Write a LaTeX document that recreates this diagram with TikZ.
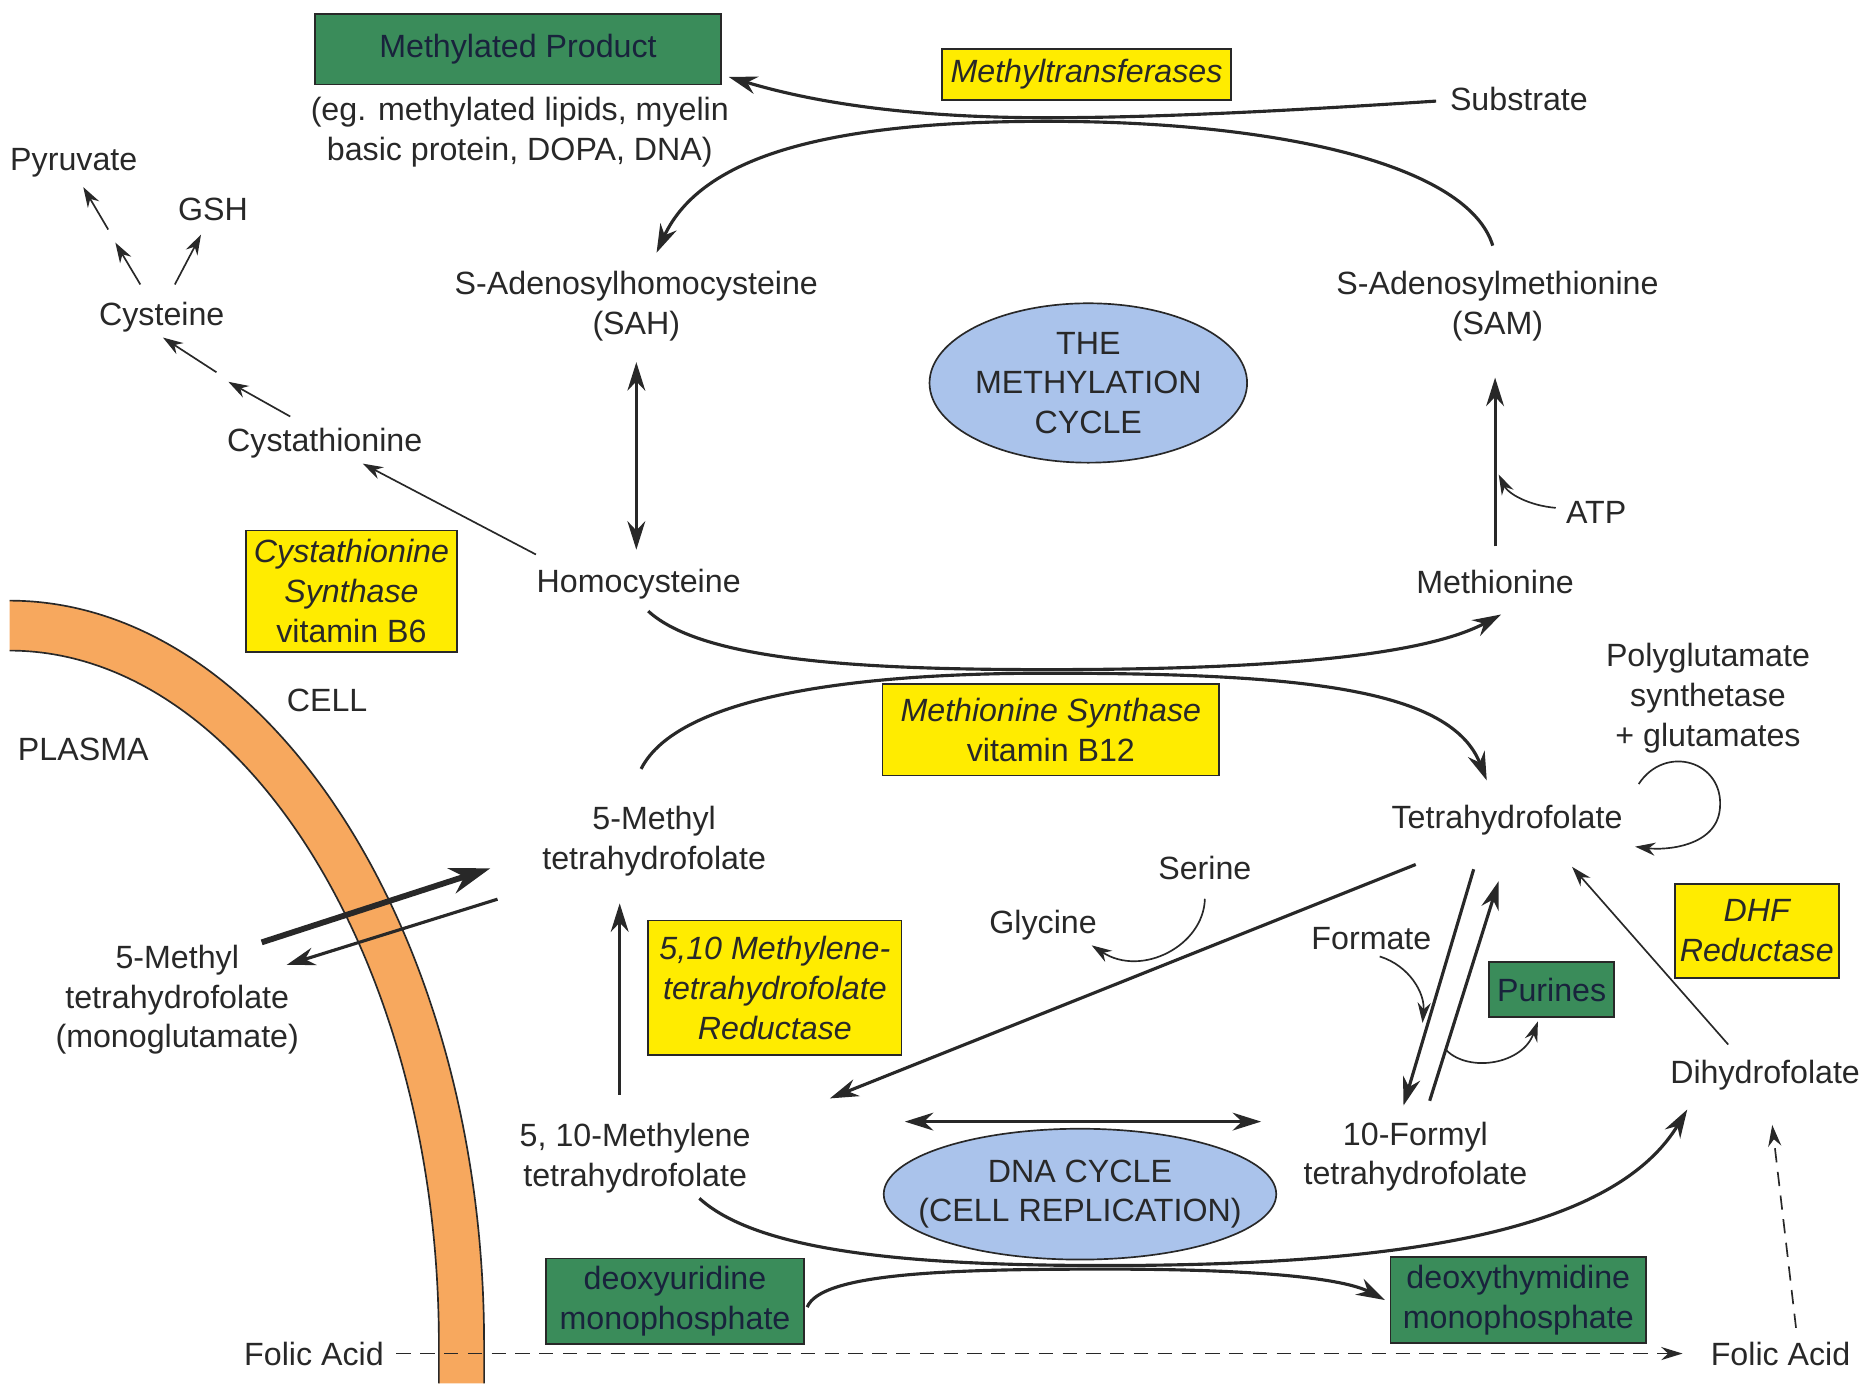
\documentclass[tikz,border=0pt]{standalone}
\usepackage{fontspec}
\setmainfont{Liberation Sans}
\usetikzlibrary{arrows.meta,shapes.geometric}
\definecolor{enzyme}{RGB}{255,236,0}
\definecolor{prodgreen}{RGB}{58,140,90}
\definecolor{cycleblue}{RGB}{170,195,235}
\definecolor{membrane}{RGB}{247,168,94}
\definecolor{ink}{RGB}{40,40,40}
\definecolor{boxtext}{RGB}{25,35,60}

\begin{document}
\begin{tikzpicture}[x=0.1mm,y=-0.1mm,
    every node/.style={font=\fontsize{7.7}{9.5}\selectfont,text=ink,inner sep=0pt,align=center},
    enzbox/.style={draw=ink,line width=0.4pt,fill=enzyme},
    prodbox/.style={draw=ink,line width=0.4pt,fill=prodgreen,text=boxtext},
    cycbox/.style={ellipse,draw=ink,line width=0.4pt,fill=cycleblue},
    flow/.style={ink,line width=0.75pt,-{Stealth[length=2.4mm,width=1.5mm]}},
    bothflow/.style={ink,line width=0.75pt,{Stealth[length=2.4mm,width=1.5mm]}-{Stealth[length=2.4mm,width=1.5mm]}},
    finearr/.style={ink,line width=0.4pt,-{Stealth[length=1.7mm,width=1.1mm]}},
    transp/.style={ink,line width=1.4pt,-{Stealth[length=3.4mm,width=2.2mm]}},
    dashflow/.style={ink,line width=0.4pt,dash pattern=on 1.2mm off 0.8mm,-{Stealth[length=1.8mm,width=1.1mm]}}]
    \fill[white](0,0)rectangle(1568,1163);
    \useasboundingbox(0,0)rectangle(1568,1163);
    \fill[membrane](8,505) .. controls (225,505) and (407,785) .. (407,1130) -- (407,1163)
        -- (369,1163) -- (369,1130) .. controls (369,808) and (204,547) .. (8,547) -- cycle;
    \draw[ink,line width=0.4pt](8,505) .. controls (225,505) and (407,785) .. (407,1130) -- (407,1163);
    \draw[ink,line width=0.4pt](8,547) .. controls (204,547) and (369,808) .. (369,1130) -- (369,1163);

    \node (mprod)[prodbox,minimum width=34.1mm,minimum height=5.9mm] at (435.5,41.5) {Methylated Product};
    \node (eg) at (437,111) {(eg. methylated lipids, myelin\\basic protein, DOPA, DNA)};
    \node (mtrans)[enzbox,minimum width=24.3mm,minimum height=4.3mm] at (913.5,62.5) {\itshape Methyltransferases};
    \node (subst) at (1277,83) {Substrate};
    \node (sah) at (535,257.5) {S-Adenosylhomocysteine\\(SAH)};
    \node (sam) at (1259,257.5) {S-Adenosylmethionine\\(SAM)};
    \node (methcyc)[cycbox,inner xsep=-1mm,inner ysep=0mm,minimum width=26.7mm,minimum height=13.4mm] at (915,322) {THE\\METHYLATION\\CYCLE};
    \node (atp) at (1342,431) {ATP};
    \node (hcy) at (537,491) {Homocysteine};
    \node (met) at (1257,489) {Methionine};
    \node (cysta) at (273,372.5) {Cystathionine};
    \node (cys) at (136,266.5) {Cysteine};
    \node (pyr) at (62,136.5) {Pyruvate};
    \node (gsh) at (179,176) {GSH};
    \node (cbs)[enzbox,minimum width=17.7mm,minimum height=10.2mm] at (295.5,497) {{\itshape Cystathionine}\\{\itshape Synthase}\\vitamin B6};
    \node (cell) at (275,589) {CELL};
    \node (plasma) at (70,630) {PLASMA};
    \node (ms)[enzbox,minimum width=28.3mm,minimum height=7.7mm] at (883.5,613.5) {{\itshape Methionine Synthase}\\vitamin B12};
    \node (polyglu) at (1436,587) {Polyglutamate\\synthetase\\+ glutamates};
    \node (thf) at (1267,689.5) {Tetrahydrofolate};
    \node (mthf) at (550,707.5) {5-Methyl\\tetrahydrofolate};
    \node (mthfout) at (149,840.5) {5-Methyl\\tetrahydrofolate\\(monoglutamate)};
    \node (serine) at (1013,730) {Serine};
    \node (glycine) at (877,778) {Glycine};
    \node (formate) at (1153,789) {Formate};
    \node (mthfr)[enzbox,minimum width=21.3mm,minimum height=11.3mm] at (651.5,830.5) {{\itshape 5,10 Methylene-}\\{\itshape tetrahydrofolate}\\{\itshape Reductase}};
    \node (purines)[prodbox,minimum width=10.5mm,minimum height=4.6mm] at (1304.5,832) {Purines};
    \node (dhfr)[enzbox,minimum width=13.8mm,minimum height=7.9mm] at (1477,782.5) {{\itshape DHF}\\{\itshape Reductase}};
    \node (dhf) at (1484,904) {Dihydrofolate};
    \node (mlthf) at (534,973.5) {5, 10-Methylene\\tetrahydrofolate};
    \node (formyl) at (1190,972.5) {10-Formyl\\tetrahydrofolate};
    \node (dnacyc)[cycbox,inner xsep=-5mm,inner ysep=0mm,minimum width=33mm,minimum height=11mm] at (908,1004) {DNA CYCLE\\(CELL REPLICATION)};
    \node (dump)[prodbox,minimum width=21.7mm,minimum height=7.2mm] at (567.5,1094) {deoxyuridine\\monophosphate};
    \node (dtmp)[prodbox,minimum width=21.5mm,minimum height=7.2mm] at (1276.5,1093) {deoxythymidine\\monophosphate};
    \node (folicL) at (264,1138) {Folic Acid};
    \node (folicR) at (1497,1138) {Folic Acid};

    \coordinate (cystA) at (192,321);
    \coordinate (cystB) at (182,313);
    \coordinate (pyrA) at (97,204);
    \coordinate (pyrB) at (91,193);
    \coordinate (atpin) at (1260,399);
    \coordinate (fmin) at (1196,860);
    \coordinate (purout) at (1216,883);

    \draw[flow]([shift={(-11,2)}]subst.west) .. controls (1100,92) and (980,99) .. (880,99)
        .. controls (760,99) and (680,85) .. ([shift={(6,-7)}]mprod.south east);
    \draw[flow]([shift={(-4,-21)}]sam.north) .. controls (1235,140) and (1080,102) .. (880,102)
        .. controls (700,102) and (590,130) .. ([shift={(17,-15)}]sah.north);
    \draw[bothflow]([shift={(0,17)}]sah.south)--([shift={(-2,-15.5)}]hcy.north);
    \draw[flow]([shift={(0,-19)}]met.north)--([shift={(-2,30)}]sam.south);
    \draw[finearr]([shift={(-8,-4)}]atp.west) .. controls (1285,425) and (1268,415) .. (atpin);
    \draw[flow]([shift={(8,9.5)}]hcy.south) .. controls (590,555) and (720,563) .. (880,563)
        .. controls (1080,563) and (1200,550) .. ([shift={(5,17)}]met.south);
    \draw[flow]([shift={(-11,-31)}]mthf.north) .. controls (570,585) and (720,566) .. (880,566)
        .. controls (1100,566) and (1220,580) .. ([shift={(-17,-20)}]thf.north);

    \draw[finearr]([shift={(0,-11.5)}]hcy.north west)--([shift={(32,4)}]cysta.south);
    \draw[finearr]([shift={(-29,-9)}]cysta.north)--(cystA);
    \draw[finearr](cystB)--([shift={(1,4)}]cys.south);
    \draw[finearr]([shift={(-18,-14)}]cys.north)--(pyrA);
    \draw[finearr](pyrB)--([shift={(8,8)}]pyr.south);
    \draw[finearr]([shift={(11,-14)}]cys.north)--([shift={(-10,11)}]gsh.south);

    \draw[transp]([shift={(-32,-1.5)}]mthfout.north east)--([shift={(-43,22.5)}]mthf.west);
    \draw[flow]([shift={(-37,48.5)}]mthf.west)--([shift={(-11,17.5)}]mthfout.north east);
    \draw[flow]([shift={(-13,-23)}]mlthf.north)--([shift={(-29,22)}]mthf.south);

    \draw[flow]([shift={(21,24)}]thf.south west)--([shift={(66,-20)}]mlthf.north east);
    \draw[finearr]([shift={(0,15)}]serine.south) .. controls (1012,795) and (960,822) .. ([shift={(-5,3.5)}]glycine.south east);
    \draw[finearr]([shift={(7,5)}]formate.south) .. controls (1185,812) and (1198,835) .. (fmin);
    \draw[flow]([shift={(-28,28)}]thf.south)--([shift={(-10,-13)}]formyl.north);
    \draw[flow]([shift={(12,-17)}]formyl.north)--([shift={(-7,38)}]thf.south);
    \draw[finearr](purout) .. controls (1235,902) and (1280,895) .. ([shift={(-11.5,3)}]purines.south);
    \draw[finearr]([shift={(13,-17)}]thf.north east) .. controls (1400,625) and (1450,640) .. (1446,680)
        .. controls (1443,712) and (1400,715) .. ([shift={(10,9)}]thf.south east);
    \draw[finearr]([shift={(-31,-12.5)}]dhf.north)--([shift={(-43,26)}]thf.south east);

    \draw[bothflow]([shift={(129,-30.5)}]mlthf.east)--([shift={(-35,-29.5)}]formyl.west);
    \draw[flow]([shift={(54,4)}]mlthf.south) .. controls (640,1055) and (780,1064) .. (930,1064)
        .. controls (1200,1064) and (1360,1030) .. ([shift={(15,15.5)}]dhf.south west);
    \draw[flow]([shift={(2,5)}]dump.east) .. controls (690,1070) and (800,1067) .. (930,1067)
        .. controls (1060,1067) and (1130,1075) .. ([shift={(-4,0)}]dtmp.west);
    \draw[dashflow]([shift={(10,0)}]folicL.east)--([shift={(-23,0)}]folicR.west);
    \draw[dashflow]([shift={(13,-11)}]folicR.north)--([shift={(6,28.5)}]dhf.south);
\end{tikzpicture}
\end{document}
